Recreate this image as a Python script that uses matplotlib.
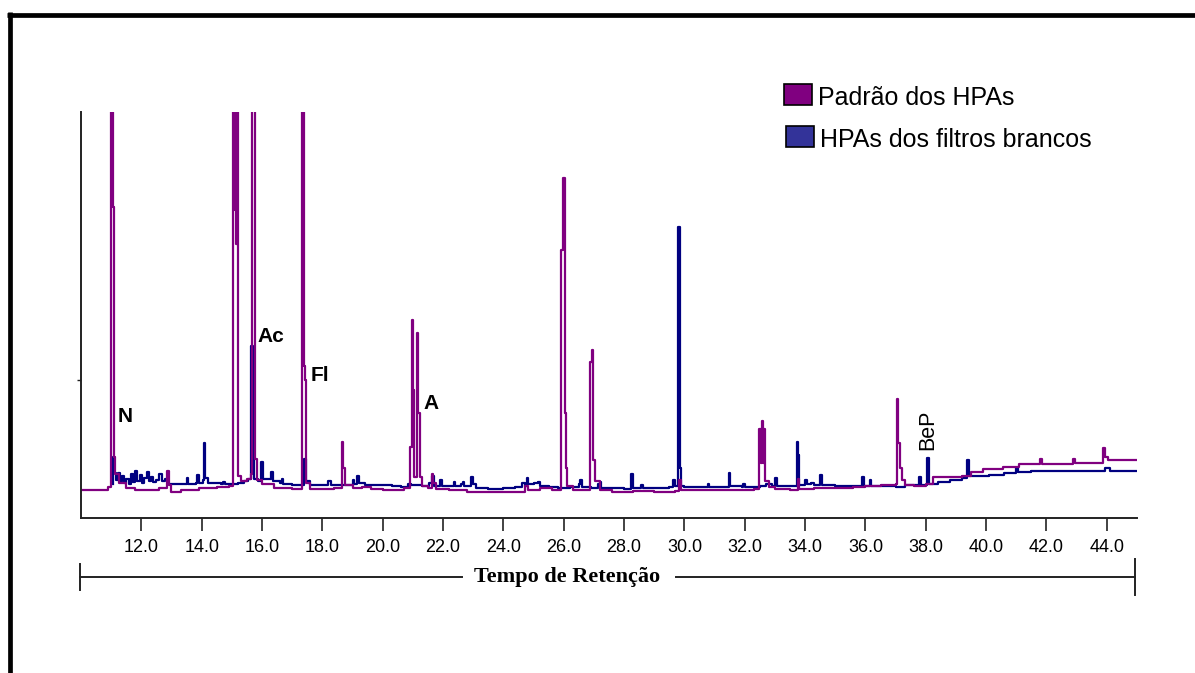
import numpy as np
import matplotlib.pyplot as plt
from matplotlib.lines import Line2D
from matplotlib.patches import Rectangle

# Padrão dos HPAs (tempo em min, intensidade relativa; >100 sai do quadro)
t_padrao = [10.00, 10.90, 11.00, 11.05, 11.09, 11.12, 11.25, 11.50, 11.80, 12.20,
            12.60, 12.85, 12.92, 12.97, 13.30, 13.90, 14.50, 14.90, 15.03, 15.10,
            15.13, 15.16, 15.20, 15.30, 15.50, 15.62, 15.67, 15.77, 15.82, 16.00,
            16.40, 17.00, 17.34, 17.40, 17.44, 17.47, 17.60, 18.00, 18.40, 18.66,
            18.70, 18.74, 19.00, 19.30, 19.60, 20.00, 20.40, 20.70, 20.90, 20.97,
            21.01, 21.05, 21.13, 21.18, 21.22, 21.30, 21.50, 21.62, 21.67, 21.75,
            22.20, 22.80, 23.50, 24.30, 24.70, 24.80, 25.20, 25.60, 25.92, 25.98,
            26.03, 26.07, 26.12, 26.30, 26.88, 26.94, 26.98, 27.05, 27.20, 27.60,
            28.30, 29.00, 29.70, 29.82, 29.88, 30.50, 31.00, 31.50, 32.00, 32.30,
            32.48, 32.53, 32.56, 32.61, 32.64, 32.68, 32.80, 33.00, 33.50, 33.75,
            33.80, 34.30, 35.00, 35.60, 36.00, 36.50, 37.00, 37.05, 37.09, 37.14,
            37.20, 37.30, 37.60, 38.00, 38.24, 38.50, 39.20, 39.50, 39.90, 40.56,
            41.10, 41.80, 41.86, 42.80, 42.88, 42.95, 43.80, 43.87, 43.95, 44.05,
            45.00]
i_padrao = [6.9, 7.6, 160, 76.6, 15.0, 10.8, 8.6, 7.4, 7.0, 6.9,
            7.3, 11.6, 8.2, 6.4, 6.9, 7.3, 7.6, 8.0, 160, 75.9,
            67.5, 160, 10.3, 9.0, 9.5, 10.8, 160, 14.5, 9.4, 8.4,
            7.4, 7.2, 160, 37.4, 34.0, 8.6, 7.2, 7.1, 7.4, 18.7,
            12.3, 8.2, 7.4, 7.6, 7.2, 7.0, 7.0, 7.4, 17.6, 48.8,
            31.5, 10.2, 45.6, 25.9, 10.2, 8.0, 7.4, 10.8, 8.6, 7.2,
            7.0, 6.5, 6.4, 6.5, 8.0, 6.9, 7.4, 7.0, 66.0, 83.7,
            25.9, 12.3, 8.0, 7.0, 38.5, 41.4, 14.3, 9.0, 6.9, 6.5,
            6.6, 6.5, 6.6, 9.4, 6.9, 7.0, 7.0, 6.8, 7.0, 7.2,
            21.9, 13.5, 24.0, 13.5, 21.9, 9.0, 7.6, 7.2, 6.9, 9.6,
            7.2, 7.4, 7.4, 7.6, 8.0, 8.1, 8.4, 29.3, 18.5, 12.3,
            9.4, 8.1, 8.0, 8.4, 10.1, 10.1, 10.4, 11.3, 12.1, 12.6,
            13.3, 14.5, 13.3, 13.3, 14.5, 13.5, 13.5, 17.2, 15.0, 14.3,
            14.3]

# HPAs dos filtros brancos
t_branco = [11.05, 11.06, 11.10, 11.15, 11.22, 11.28, 11.35, 11.42, 11.50, 11.58,
            11.65, 11.72, 11.80, 11.86, 11.95, 12.02, 12.10, 12.18, 12.24, 12.32,
            12.40, 12.50, 12.60, 12.68, 12.78, 12.90, 13.00, 13.45, 13.50, 13.55,
            13.80, 13.86, 13.92, 14.05, 14.08, 14.12, 14.20, 14.65, 14.70, 14.78,
            15.00, 15.20, 15.40, 15.55, 15.64, 15.70, 15.75, 15.85, 15.97, 16.03,
            16.30, 16.36, 16.60, 16.65, 16.70, 17.00, 17.35, 17.40, 17.45, 17.60,
            18.00, 18.20, 18.30, 18.90, 19.00, 19.05, 19.15, 19.20, 19.40, 20.30,
            20.60, 20.85, 20.95, 21.10, 21.30, 21.55, 21.65, 21.70, 21.90, 21.95,
            22.30, 22.35, 22.40, 22.60, 22.65, 22.70, 22.93, 22.98, 23.10, 23.50,
            24.00, 24.40, 24.60, 24.70, 24.77, 24.82, 25.00, 25.15, 25.20, 25.50,
            25.80, 26.20, 26.50, 26.54, 26.60, 26.90, 27.15, 27.20, 27.25, 27.60,
            28.00, 28.22, 28.30, 28.55, 28.62, 29.00, 29.50, 29.62, 29.68, 29.80,
            29.86, 29.90, 30.00, 30.50, 30.78, 30.82, 31.45, 31.48, 31.52, 31.90,
            31.94, 32.00, 32.40, 32.50, 32.70, 32.90, 33.00, 33.06, 33.50, 33.72,
            33.76, 33.80, 34.00, 34.05, 34.20, 34.30, 34.50, 34.56, 35.00, 35.50,
            35.90, 35.96, 36.15, 36.20, 36.60, 37.00, 37.30, 37.78, 37.84, 38.04,
            38.09, 38.40, 38.80, 39.20, 39.36, 39.42, 39.60, 40.10, 40.60, 41.00,
            41.05, 41.50, 42.00, 43.00, 43.95, 44.10, 45.00]
i_branco = [8.4, 15.0, 11.0, 9.4, 11.2, 9.0, 10.4, 8.6, 9.6, 8.4,
            10.8, 8.8, 11.6, 9.2, 10.6, 8.6, 9.8, 11.4, 9.0, 10.2,
            8.8, 9.4, 10.8, 9.0, 9.6, 8.4, 8.4, 8.4, 9.9, 8.4,
            8.6, 10.6, 8.6, 9.4, 18.5, 9.9, 8.6, 8.4, 8.9, 8.4,
            8.4, 8.6, 9.2, 9.6, 42.4, 15.0, 9.6, 9.0, 13.9, 9.6,
            11.4, 9.0, 8.6, 9.6, 8.4, 8.1, 8.1, 14.5, 9.0, 8.1,
            8.1, 9.0, 8.1, 8.1, 9.4, 8.4, 10.3, 8.6, 8.1, 8.0,
            7.6, 8.4, 8.1, 8.1, 7.9, 8.6, 10.3, 8.0, 9.4, 8.0,
            8.0, 8.9, 8.0, 8.4, 8.9, 8.0, 10.0, 8.4, 7.4, 7.2,
            7.4, 7.6, 8.6, 8.0, 9.9, 8.4, 8.6, 8.9, 7.9, 7.6,
            7.4, 7.6, 8.4, 9.4, 7.6, 7.4, 8.4, 8.9, 7.4, 7.4,
            7.2, 10.8, 7.4, 8.1, 7.4, 7.4, 7.6, 9.4, 8.0, 71.7,
            12.3, 8.0, 7.6, 7.6, 8.4, 7.6, 7.6, 11.1, 8.0, 7.6,
            8.4, 7.6, 7.6, 8.0, 8.4, 7.8, 9.9, 8.0, 7.8, 18.8,
            15.5, 8.1, 9.4, 8.4, 8.6, 8.1, 10.6, 8.1, 7.8, 7.8,
            10.2, 8.0, 9.4, 8.0, 7.8, 7.6, 8.1, 10.2, 8.1, 14.8,
            8.4, 8.8, 9.4, 9.9, 14.3, 10.4, 10.4, 10.6, 11.0, 12.3,
            11.4, 11.6, 11.6, 11.6, 12.3, 11.6, 11.6]

# rótulos dos picos: texto, tempo, intensidade, rotação
picos = ["N", "Ac", "Fl", "A", "BeP"]
picos_t = [11.46, 16.30, 17.92, 21.60, 38.07]
picos_i = [25.1, 44.8, 35.2, 28.1, 21.7]
picos_rot = [0, 0, 0, 0, 90]

xticks = [12.0, 14.0, 16.0, 18.0, 20.0, 22.0, 24.0, 26.0, 28.0, 30.0,
          32.0, 34.0, 36.0, 38.0, 40.0, 42.0, 44.0]

W, H = 1195, 673
fig = plt.figure(figsize=(W / 100, H / 100), dpi=100)
fig.patch.set_facecolor("white")


def fx(px):
    return px / W


def fy(py):
    return 1 - py / H


ax = fig.add_axes([fx(81), fy(518), fx(1137) - fx(81), fy(112) - fy(518)])
ax.plot(t_branco, i_branco, drawstyle="steps-post", color="#000080", lw=1.6)
ax.plot(t_padrao, i_padrao, drawstyle="steps-post", color="#800080", lw=1.6)
ax.set_xlim(10, 45)
ax.set_ylim(0, 100)

for s in ["top", "right"]:
    ax.spines[s].set_visible(False)
for s in ["left", "bottom"]:
    ax.spines[s].set_color("#222222")
    ax.spines[s].set_linewidth(1.4)

ax.set_xticks(xticks)
ax.set_xticklabels([f"{v:.1f}" for v in xticks], fontfamily="Liberation Sans",
                   fontsize=13)
ax.tick_params(axis="x", direction="out", length=9, width=1.2, pad=6,
               color="#222222")
ax.set_yticks([34])
ax.set_yticklabels([])
ax.tick_params(axis="y", direction="out", length=3, width=1, color="#222222")

for txt, t, v, rot in zip(picos, picos_t, picos_i, picos_rot):
    ax.text(t, v, txt, ha="center", va="center", rotation=rot,
            fontfamily="Liberation Sans", fontsize=15.5 if rot else 15,
            fontweight="normal" if rot else "bold")

# legenda desenhada à mão
leg_cores = ["#800080", "#333399"]
leg_textos = ["Padrão dos HPAs", "HPAs dos filtros brancos"]
leg_y = [94, 136]
leg_x = [784, 786]
for c, txt, y0, x0 in zip(leg_cores, leg_textos, leg_y, leg_x):
    fig.add_artist(Rectangle((fx(x0), fy(y0 + 11)), fx(28), 21 / H,
                             transform=fig.transFigure, facecolor=c,
                             edgecolor="black", lw=1.2))
    fig.text(fx(x0 + 34), fy(y0 + 4), txt, ha="left", va="center",
             fontfamily="Liberation Sans", fontsize=18)

# régua do tempo de retenção
lin = dict(color="#222222", lw=1.4, transform=fig.transFigure)
fig.add_artist(Line2D([fx(80), fx(462)], [fy(577), fy(577)], **lin))
fig.add_artist(Line2D([fx(676), fx(1135)], [fy(577), fy(577)], **lin))
fig.add_artist(Line2D([fx(80), fx(80)], [fy(564), fy(590)], **lin))
fig.add_artist(Line2D([fx(1135), fx(1135)], [fy(559), fy(595)], **lin))
fig.text(fx(567), fy(577), "Tempo de Retenção", ha="center", va="center",
         fontfamily="Liberation Serif", fontweight="bold", fontsize=16)

# moldura
borda = dict(color="black", lw=3.4, transform=fig.transFigure,
             solid_capstyle="butt")
fig.add_artist(Line2D([fx(7), 1], [fy(14.5), fy(14.5)], **borda))
fig.add_artist(Line2D([fx(9.5), fx(9.5)], [fy(12), 0], **borda))

fig.savefig("out.png", dpi=100)
